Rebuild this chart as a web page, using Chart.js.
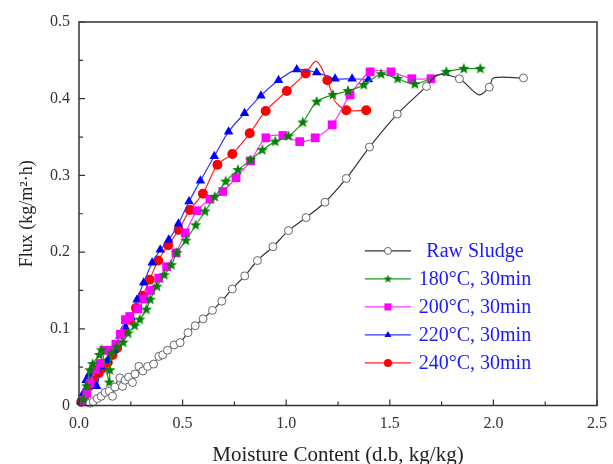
<!DOCTYPE html>
<html>
<head>
<meta charset="utf-8">
<script src="https://cdn.jsdelivr.net/npm/chart.js@4/dist/chart.umd.min.js"></script>
<style>
  html, body { margin: 0; padding: 0; background: #fff; }
  #wrap { width: 613px; height: 464px; }
</style>
</head>
<body>
<div id="wrap"><canvas id="graficoFluxo" width="613" height="464"></canvas></div>
<script>
// legend labels
const seriesNames = ['Raw Sludge', '180°C, 30min', '200°C, 30min', '220°C, 30min', '240°C, 30min'];

// tick labels
const xTicks = [0, 0.5, 1.0, 1.5, 2.0, 2.5];
const yTicks = [0, 0.1, 0.2, 0.3, 0.4, 0.5];

// Raw Sludge (moisture content, flux); mark 0 = bend point without marker
const rawX = [0.053, 0.069, 0.088, 0.107, 0.126, 0.146, 0.162, 0.173, 0.197, 0.210, 0.222, 0.239, 0.258, 0.270, 0.289, 0.308, 0.331, 0.360, 0.385, 0.404, 0.427, 0.459, 0.488, 0.526, 0.561, 0.599, 0.644, 0.689, 0.740, 0.800, 0.861, 0.936, 1.011, 1.096, 1.187, 1.290, 1.402, 1.536, 1.677, 1.730, 1.836, 1.930, 1.980, 2.000, 2.145];
const rawY = [0.003, 0.005, 0.009, 0.012, 0.017, 0.019, 0.012, 0.024, 0.036, 0.025, 0.033, 0.037, 0.030, 0.041, 0.051, 0.045, 0.051, 0.054, 0.064, 0.066, 0.072, 0.079, 0.082, 0.095, 0.104, 0.113, 0.124, 0.136, 0.152, 0.169, 0.189, 0.207, 0.228, 0.245, 0.265, 0.296, 0.337, 0.380, 0.416, 0.431, 0.426, 0.405, 0.415, 0.427, 0.427];
const rawMark = [1, 1, 1, 1, 1, 1, 1, 1, 1, 1, 1, 1, 1, 1, 1, 1, 1, 1, 1, 1, 1, 1, 1, 1, 1, 1, 1, 1, 1, 1, 1, 1, 1, 1, 1, 1, 1, 1, 1, 0, 1, 0, 1, 0, 1];

// 180°C
const t180X = [0.021, 0.037, 0.053, 0.066, 0.098, 0.109, 0.146, 0.149, 0.157, 0.181, 0.213, 0.237, 0.269, 0.293, 0.325, 0.344, 0.376, 0.412, 0.446, 0.472, 0.516, 0.563, 0.608, 0.655, 0.708, 0.767, 0.828, 0.885, 0.947, 1.011, 1.080, 1.147, 1.225, 1.298, 1.374, 1.458, 1.538, 1.621, 1.773, 1.857, 1.937];
const t180Y = [0.007, 0.025, 0.046, 0.054, 0.066, 0.072, 0.030, 0.046, 0.068, 0.076, 0.082, 0.094, 0.104, 0.112, 0.125, 0.138, 0.155, 0.170, 0.183, 0.199, 0.215, 0.235, 0.253, 0.272, 0.292, 0.307, 0.320, 0.333, 0.344, 0.351, 0.369, 0.396, 0.405, 0.410, 0.418, 0.432, 0.426, 0.419, 0.435, 0.439, 0.439];

// 200°C
const t200X = [0.018, 0.037, 0.053, 0.079, 0.101, 0.120, 0.149, 0.178, 0.200, 0.224, 0.245, 0.284, 0.315, 0.345, 0.385, 0.423, 0.468, 0.513, 0.570, 0.632, 0.694, 0.758, 0.828, 0.902, 0.984, 1.065, 1.140, 1.222, 1.308, 1.405, 1.506, 1.606, 1.699];
const t200Y = [0.005, 0.016, 0.029, 0.047, 0.055, 0.072, 0.072, 0.080, 0.093, 0.112, 0.116, 0.126, 0.139, 0.150, 0.166, 0.181, 0.199, 0.225, 0.254, 0.269, 0.279, 0.297, 0.319, 0.349, 0.352, 0.344, 0.349, 0.366, 0.405, 0.435, 0.435, 0.426, 0.426];

// 220°C
const t220X = [0.009, 0.021, 0.034, 0.050, 0.085, 0.107, 0.139, 0.168, 0.197, 0.222, 0.251, 0.280, 0.312, 0.353, 0.392, 0.433, 0.480, 0.531, 0.586, 0.653, 0.722, 0.799, 0.878, 0.963, 1.051, 1.147, 1.236, 1.318, 1.397];
const t220Y = [0.005, 0.016, 0.033, 0.041, 0.025, 0.051, 0.059, 0.072, 0.091, 0.103, 0.115, 0.138, 0.160, 0.186, 0.203, 0.216, 0.237, 0.266, 0.293, 0.325, 0.357, 0.381, 0.404, 0.424, 0.438, 0.434, 0.426, 0.426, 0.425];

// 240°C
const t240X = [0.011, 0.031, 0.050, 0.069, 0.095, 0.117, 0.139, 0.162, 0.184, 0.222, 0.246, 0.275, 0.307, 0.341, 0.382, 0.430, 0.481, 0.535, 0.598, 0.668, 0.740, 0.824, 0.901, 1.003, 1.094, 1.145, 1.199, 1.235, 1.290, 1.386];
const t240Y = [0.005, 0.014, 0.025, 0.033, 0.042, 0.049, 0.056, 0.066, 0.075, 0.096, 0.112, 0.127, 0.143, 0.164, 0.189, 0.209, 0.229, 0.255, 0.276, 0.314, 0.328, 0.355, 0.384, 0.410, 0.433, 0.449, 0.424, 0.397, 0.385, 0.385];
const t240Mark = [1, 1, 1, 1, 1, 1, 1, 1, 1, 1, 1, 1, 1, 1, 1, 1, 1, 1, 1, 1, 1, 1, 1, 1, 1, 0, 1, 0, 1, 1];

const fonte = "'Liberation Serif', 'Times New Roman', serif";

function pares(xs, ys) {
    return xs.map((x, i) => ({ x: x, y: ys[i] }));
}

// filled five point star used as marker
function estrela(r, cor) {
    const c = document.createElement('canvas');
    const s = Math.ceil(r * 2 + 2);
    c.width = s; c.height = s;
    const g = c.getContext('2d');
    g.translate(s / 2, s / 2);
    g.beginPath();
    for (let i = 0; i < 10; i++) {
        const rr = i % 2 === 0 ? r : r * 0.42;
        const a = -Math.PI / 2 + i * Math.PI / 5;
        g.lineTo(rr * Math.cos(a), rr * Math.sin(a));
    }
    g.closePath();
    g.fillStyle = cor;
    g.fill();
    return c;
}

const estrelaGrande = estrela(6, '#008000');
const estrelaPequena = estrela(4.5, '#008000');

const datasets = [
    {
        label: seriesNames[0],
        data: pares(rawX, rawY),
        borderColor: '#333333',
        borderWidth: 1.2,
        pointStyle: 'circle',
        pointRadius: rawMark.map(m => m ? 4 : 0),
        pointBackgroundColor: '#ffffff',
        pointBorderColor: '#666666',
        pointBorderWidth: 1,
        legendRadius: 3.5
    },
    {
        label: seriesNames[1],
        data: pares(t180X, t180Y),
        borderColor: '#1a9a1a',
        borderWidth: 1.2,
        pointStyle: estrelaGrande,
        legendStyle: estrelaPequena,
        pointRadius: 5,
        pointBackgroundColor: '#008000',
        pointBorderColor: '#008000'
    },
    {
        label: seriesNames[2],
        data: pares(t200X, t200Y),
        borderColor: '#ff33ff',
        borderWidth: 1.2,
        pointStyle: 'rect',
        pointRadius: 6.2,
        pointBackgroundColor: '#ff00ff',
        pointBorderColor: '#ff00ff',
        pointBorderWidth: 0,
        legendRadius: 5
    },
    {
        label: seriesNames[3],
        data: pares(t220X, t220Y),
        borderColor: '#3333ff',
        borderWidth: 1.2,
        pointStyle: 'triangle',
        pointRadius: 5.5,
        pointBackgroundColor: '#0000ff',
        pointBorderColor: '#0000ff',
        pointBorderWidth: 0,
        legendRadius: 4
    },
    {
        label: seriesNames[4],
        data: pares(t240X, t240Y),
        borderColor: '#ff2020',
        borderWidth: 1.2,
        pointStyle: 'circle',
        pointRadius: t240Mark.map(m => m ? 5 : 0),
        pointBackgroundColor: '#ff0000',
        pointBorderColor: '#ff0000',
        pointBorderWidth: 0,
        legendRadius: 4
    }
];

// frame, inward ticks and in-plot legend
const molduraPlugin = {
    id: 'moldura',
    afterDraw(chart) {
        const ctx = chart.ctx;
        const a = chart.chartArea;
        const sx = chart.scales.x;
        const sy = chart.scales.y;
        ctx.save();
        ctx.strokeStyle = '#333333';
        ctx.lineWidth = 1.5;
        ctx.strokeRect(a.left, a.top, a.right - a.left, a.bottom - a.top);

        ctx.lineWidth = 1.2;
        ctx.beginPath();
        for (let i = 0; i <= 10; i++) {
            const px = sx.getPixelForValue(i * 0.25);
            const len = i % 2 === 0 ? 6 : 4;
            ctx.moveTo(px, a.bottom);
            ctx.lineTo(px, a.bottom - len);
        }
        for (let i = 0; i <= 10; i++) {
            const py = sy.getPixelForValue(i * 0.05);
            const len = i % 2 === 0 ? 6 : 4;
            ctx.moveTo(a.left, py);
            ctx.lineTo(a.left + len, py);
        }
        ctx.stroke();

        // legend
        const x0 = sx.getPixelForValue(1.38);
        const y0 = sy.getPixelForValue(0.2015);
        const passo = 28;
        ctx.font = '20px ' + fonte;
        ctx.textBaseline = 'middle';
        ctx.textAlign = 'center';
        chart.data.datasets.forEach((ds, i) => {
            const y = y0 + i * passo;
            ctx.strokeStyle = ds.borderColor;
            ctx.lineWidth = 1.2;
            ctx.beginPath();
            ctx.moveTo(x0, y);
            ctx.lineTo(x0 + 46, y);
            ctx.stroke();
            ctx.fillStyle = ds.pointBackgroundColor;
            ctx.strokeStyle = ds.pointBorderColor;
            ctx.lineWidth = 1;
            Chart.helpers.drawPoint(ctx, {
                pointStyle: ds.legendStyle || ds.pointStyle,
                radius: ds.legendRadius || 4,
                rotation: 0,
                borderWidth: ds.pointBorderWidth === undefined ? 1 : ds.pointBorderWidth
            }, x0 + 23, y);
            ctx.fillStyle = '#1a1aff';
            ctx.fillText(ds.label, x0 + 110, y + 1);
        });
        ctx.restore();
    }
};

const configuracao = {
    type: 'line',
    data: { datasets: datasets },
    options: {
        responsive: false,
        animation: false,
        devicePixelRatio: 1,
        layout: { padding: { top: 22, right: 12, left: 0, bottom: 0 } },
        elements: { line: { tension: 0.3, fill: false } },
        datasets: { line: { clip: false } },
        plugins: { legend: { display: false }, tooltip: { enabled: false } },
        scales: {
            x: {
                type: 'linear',
                min: 0, max: 2.5,
                afterFit: s => { s.height = 58.5; },
                afterBuildTicks: s => { s.ticks = xTicks.map(v => ({ value: v })); },
                grid: { display: false, drawTicks: false },
                border: { display: false },
                ticks: {
                    padding: 6,
                    color: '#333333',
                    font: { family: fonte, size: 16, lineHeight: 1.5 },
                    callback: v => v.toFixed(1)
                },
                title: {
                    display: true,
                    text: 'Moisture Content (d.b, kg/kg)',
                    color: '#222222',
                    font: { family: fonte, size: 21, lineHeight: 0.85 },
                    padding: { top: 0, bottom: 0 }
                }
            },
            y: {
                type: 'linear',
                min: 0, max: 0.5,
                afterFit: s => { s.width = 79; },
                afterBuildTicks: s => { s.ticks = yTicks.map(v => ({ value: v })); },
                grid: { display: false, drawTicks: false },
                border: { display: false },
                ticks: {
                    padding: 9,
                    color: '#333333',
                    font: { family: fonte, size: 16 },
                    callback: v => v === 0 ? '0' : v.toFixed(1)
                },
                title: {
                    display: true,
                    text: 'Flux (kg/m²·h)',
                    color: '#222222',
                    font: { family: fonte, size: 18, lineHeight: 1.2 },
                    padding: { top: 16, bottom: 0 }
                }
            }
        }
    },
    plugins: [molduraPlugin]
};

var graficoFluxo = new Chart(document.getElementById('graficoFluxo'), configuracao);
</script>
</body>
</html>
